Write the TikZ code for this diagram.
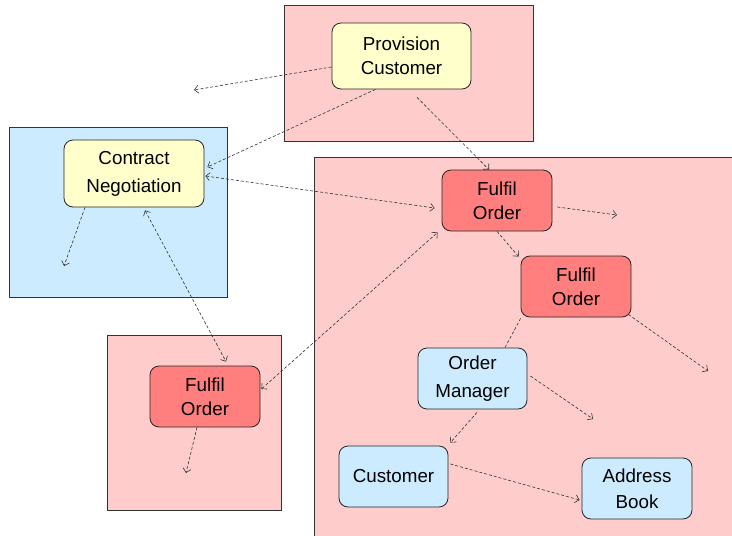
\documentclass[tikz,border=0pt]{standalone}
\usepackage{fontspec}
\setmainfont{Liberation Sans}
\usetikzlibrary{arrows.meta}
\definecolor{pinkbg}{HTML}{FFCCCC}
\definecolor{bluebg}{HTML}{CCEBFF}
\definecolor{yellowbox}{HTML}{FFFFCC}
\definecolor{redbox}{HTML}{FF7F7F}
\definecolor{linegray}{HTML}{333333}
\begin{document}
\begin{tikzpicture}[x=1pt, y=-1pt,
  area/.style = {draw=linegray, line width=0.8pt},
  box/.style = {draw=black!85, line width=0.8pt, rounded corners=9pt, align=center,
    minimum width=110pt, minimum height=61pt, inner sep=2pt,
    font=\fontsize{18.8}{24}\selectfont},
  wide/.style = {font=\fontsize{18.8}{28}\selectfont},
  big/.style = {box, minimum width=139pt, minimum height=66pt},
  dep/.style = {draw=linegray, line width=0.6pt, dash pattern=on 3pt off 2pt,
    -{Straight Barb[length=4pt,width=8pt]}},
  dep2/.style = {dep, {Straight Barb[length=4pt,width=8pt]}-{Straight Barb[length=4pt,width=8pt]}}]
\useasboundingbox (0,0) rectangle (732,536);
\clip (0,0) rectangle (732,536);
\filldraw[area, fill=pinkbg] (284,5) rectangle (533,141);
\filldraw[area, fill=bluebg] (9,127) rectangle (227,297);
\filldraw[area, fill=pinkbg] (107,335) rectangle (281,510);
\filldraw[area, fill=pinkbg] (314,157) rectangle (745,550);
\node[big, fill=yellowbox] (p1) at (401.5,56) {Provision\\Customer};
\node[big, wide, fill=yellowbox, minimum width=140pt, minimum height=67pt] (c1) at (134,173.5) {Contract\\Negotiation};
\node[box, fill=redbox] (f3) at (205,396.5) {Fulfil\\Order};
\node[box, fill=redbox] (f1) at (497,200.5) {Fulfil\\Order};
\node[box, fill=redbox] (f2) at (576,286.5) {Fulfil\\Order};
\node[box, wide, fill=bluebg, minimum width=109pt] (m1) at (472.5,378.5) {Order\\Manager};
\node[box, fill=bluebg, minimum width=109pt] (u1) at (393.5,476.5) {Customer};
\node[box, fill=bluebg, font=\fontsize{18.8}{26}\selectfont] (a1) at (637,488.5) {Address\\Book};
\coordinate (e1) at (194,90);
\coordinate (e2) at (64,266);
\coordinate (e3) at (186,473);
\coordinate (e4) at (617,215);
\coordinate (e5) at (708,371);
\coordinate (e6) at (593,419);
\draw[dep] ([yshift=-11pt]p1.west) -- (e1);
\draw[dep] ([xshift=-26pt]p1.south) -- ([shift={(3pt,6.5pt)}]c1.east);
\draw[dep] ([shift={(15.5pt,-8pt)}]p1.south) -- ([xshift=-8pt]f1.north);
\draw[dep2] ([shift={(1pt,-2.5pt)}]c1.east) -- ([shift={(-7pt,-7.5pt)}]f1.west);
\draw[dep] ([xshift=-49pt]c1.south) -- (e2);
\draw[dep2] ([shift={(11pt,-3pt)}]c1.south) -- ([shift={(21pt,4pt)}]f3.north);
\draw[dep2] ([shift={(1pt,7.5pt)}]f3.east) -- ([shift={(-4pt,-1pt)}]f1.south west);
\draw[dep] ([xshift=-8pt]f3.south) -- (e3);
\draw[dep] ([shift={(5pt,-6.5pt)}]f1.east) -- (e4);
\draw[dep] (f1.south) -- ([shift={(-2pt,-1pt)}]f2.north west);
\draw[dep] ([shift={(-3pt,3pt)}]f2.south east) -- (e5);
\draw[dep, -] ([yshift=-1pt]f2.south west) -- ([xshift=32.5pt]m1.north);
\draw[dep] ([shift={(3pt,2.5pt)}]m1.east) -- (e6);
\draw[dep] ([shift={(4.5pt,-3pt)}]m1.south) -- ([shift={(2pt,3pt)}]u1.north east);
\draw[dep] ([shift={(2pt,12.5pt)}]u1.east) -- ([shift={(-2pt,-11.5pt)}]a1.west);
\end{tikzpicture}
\end{document}
